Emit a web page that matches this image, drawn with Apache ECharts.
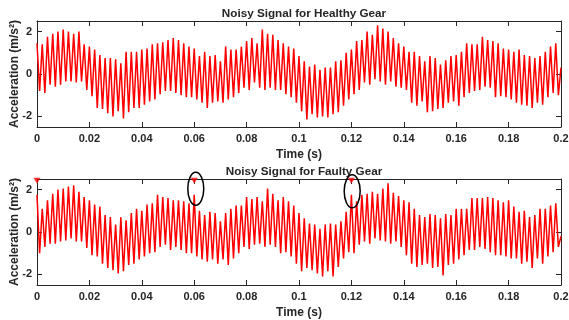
<!DOCTYPE html>
<html>
<head>
<meta charset="utf-8">
<title>Noisy Signal for Healthy / Faulty Gear</title>
<script src="https://cdn.jsdelivr.net/npm/echarts@6/dist/echarts.min.js"></script>
<style>
html, body { margin: 0; padding: 0; background: #fff; }
#main { width: 569px; height: 320px; }
</style>
</head>
<body>
<div id="main"></div>
<script>
// one mesh cycle = 2 ms, peak at the start of the cycle, trough half way
var period = 0.002;
var tEnd = 0.2;

// peak / trough of every cycle (m/s^2)
var healthyPeaks = [
  1.45, 1.4, 1.75, 1.9, 2.0, 2.1, 2.0, 1.9, 2.0, 1.4, 1.3, 1.15, 0.9, 0.75, 0.75, 0.7,
  0.5, 1.05, 1.05, 1.05, 1.15, 1.2, 1.4, 1.45, 1.5, 1.6, 1.7, 1.6, 1.45, 1.3, 1.2, 0.85,
  1.05, 0.85, 0.9, 0.6, 1.3, 1.15, 1.15, 1.3, 1.55, 1.7, 1.45, 2.1, 1.9, 1.85, 1.6, 1.45,
  1.3, 1.2, 0.85, 0.6, 0.35, 0.45, 0.2, 0.3, 0.3, 0.6, 0.65, 1.0, 1.15, 1.55, 1.6, 2.0,
  1.85, 2.3, 2.15, 2.0, 1.7, 1.45, 1.3, 1.05, 1.05, 0.85, 0.6, 0.85, 0.75, 0.45, 0.65, 0.85,
  0.9, 1.05, 1.45, 1.4, 1.4, 1.75, 1.6, 1.55, 1.45, 1.2, 1.15, 1.05, 1.15, 0.9, 0.85, 0.75,
  0.85, 1.05, 1.3, 1.45
];
var healthyTroughs = [
  -0.8, -0.9, -0.5, -0.6, -0.5, -0.35, -0.35, -0.4, -0.35, -0.75, -1.05, -1.6, -1.65, -1.85, -2.0, -1.75,
  -2.1, -1.8, -1.6, -1.6, -1.45, -1.3, -1.2, -0.95, -0.8, -0.8, -0.9, -1.0, -1.1, -1.1, -1.2, -1.35,
  -1.6, -1.35, -1.3, -1.35, -1.2, -1.1, -0.9, -0.65, -0.75, -0.4, -0.65, -0.75, -0.65, -0.75, -0.75, -0.95,
  -1.1, -1.35, -1.75, -2.15, -1.9, -2.05, -2.0, -2.05, -1.9, -1.8, -1.5, -1.2, -0.95, -0.75, -0.4, -0.5,
  -0.25, -0.35, -0.5, -0.35, -0.6, -0.65, -0.75, -1.35, -1.5, -1.3, -1.8, -1.75, -1.65, -1.6, -1.35, -1.3,
  -1.5, -1.1, -0.9, -0.8, -0.75, -0.6, -0.65, -1.1, -1.05, -1.1, -1.2, -1.35, -1.45, -1.5, -1.6, -1.35,
  -1.45, -1.1, -0.9, -1.0
];
var healthyEnd = 0.3;

var faultyPeaks = [
  1.75, 1.1, 1.5, 1.8, 2.0, 2.05, 2.15, 2.2, 1.9, 1.65, 1.5, 1.3, 1.2, 0.8, 0.7, 0.35,
  0.7, 0.55, 0.9, 1.1, 1.0, 1.3, 1.35, 1.75, 1.65, 1.6, 1.5, 1.5, 1.45, 1.35, 1.75, 1.0,
  0.8, 0.95, 0.9, 0.5, 0.9, 1.1, 1.25, 1.25, 1.65, 1.55, 1.65, 1.45, 2.05, 1.8, 1.5, 1.65,
  1.45, 1.25, 0.9, 0.65, 0.4, 0.35, 0.15, 0.35, 0.4, 0.35, 0.5, 0.95, 1.75, 1.45, 1.75, 1.8,
  1.9, 1.8, 2.05, 2.3, 1.85, 1.7, 1.5, 1.4, 1.1, 0.8, 0.7, 0.85, 0.8, 0.65, 0.85, 0.8,
  1.1, 1.1, 1.1, 1.6, 1.6, 1.6, 1.65, 1.6, 1.5, 1.4, 1.5, 1.2, 0.95, 1.0, 0.7, 0.8,
  1.1, 1.1, 1.25, 1.35
];
var faultyTroughs = [
  -1.0, -0.7, -0.55, -0.55, -0.45, -0.4, -0.3, -0.45, -0.45, -0.75, -1.1, -1.15, -1.5, -1.7, -1.8, -1.95,
  -1.85, -1.55, -1.5, -1.3, -1.15, -1.0, -0.95, -0.7, -0.6, -0.85, -0.7, -0.85, -1.0, -1.0, -1.15, -1.3,
  -1.4, -1.3, -1.5, -1.3, -1.55, -1.25, -1.0, -0.7, -0.8, -0.6, -0.55, -0.7, -0.6, -0.7, -1.0, -0.95,
  -1.15, -1.5, -1.85, -1.7, -1.8, -1.95, -2.1, -1.85, -2.1, -1.65, -1.25, -0.95, -1.0, -0.6, -0.45, -0.55,
  -0.3, -0.4, -0.45, -0.55, -0.45, -0.7, -1.1, -1.5, -1.65, -1.55, -1.5, -1.7, -1.65, -2.05, -1.55, -1.5,
  -1.3, -1.1, -0.85, -0.85, -0.7, -0.8, -0.95, -1.1, -1.1, -1.15, -1.25, -1.25, -1.5, -1.4, -1.7, -1.25,
  -1.5, -1.15, -0.95, -0.7
];
var faultyEnd = -0.2;

// fault impulses (red markers) and the two circled ones
var faultTimes = [0, 0.06, 0.12];
var faultMarkLevel = 2.42;
var circled = [[0.0606, 2.04], [0.1203, 1.92]];

var xTicks = [0, 0.02, 0.04, 0.06, 0.08, 0.1, 0.12, 0.14, 0.16, 0.18, 0.2];
var yTicks = [-2, 0, 2];

function buildSignal(peaks, troughs, endVal) {
  var pts = [];
  for (var k = 0; k < peaks.length; k++) {
    pts.push([+(k * period).toFixed(4), peaks[k]]);
    pts.push([+(k * period + period / 2).toFixed(4), troughs[k]]);
  }
  pts.push([tEnd, endVal]);
  return pts;
}

var font = 'Liberation Sans, Arial, sans-serif';
var ink = '#262626';

function xAxes(g) {
  var base = {
    type: 'value', gridIndex: g, min: 0, max: tEnd,
    axisLine: { show: true, onZero: false, lineStyle: { color: ink, width: 1 } },
    axisTick: { show: true, inside: true, length: 5, customValues: xTicks, lineStyle: { color: ink } },
    splitLine: { show: false }
  };
  var bottom = Object.assign({}, base, {
    position: 'bottom',
    axisLabel: {
      customValues: xTicks, margin: 6, color: ink, fontSize: 11, fontWeight: 'bold', fontFamily: font,
      formatter: function (v) { return String(+v.toFixed(2)); }
    },
    name: 'Time (s)', nameLocation: 'middle', nameGap: 22, nameMoveOverlap: false,
    nameTextStyle: { color: ink, fontSize: 12, fontWeight: 'bold', fontFamily: font }
  });
  var top = Object.assign({}, base, { position: 'top', axisLabel: { show: false } });
  return [bottom, top];
}

function yAxes(g) {
  var base = {
    type: 'value', gridIndex: g, min: -2.5, max: 2.5,
    axisLine: { show: true, onZero: false, lineStyle: { color: ink, width: 1 } },
    axisTick: { show: true, inside: true, length: 5, customValues: yTicks, lineStyle: { color: ink } },
    splitLine: { show: false }
  };
  var left = Object.assign({}, base, {
    position: 'left',
    axisLabel: { customValues: yTicks, margin: 5, color: ink, fontSize: 11, fontWeight: 'bold', fontFamily: font },
    name: 'Acceleration (m/s²)', nameLocation: 'middle', nameGap: 16, nameRotate: 90, nameMoveOverlap: false,
    nameTextStyle: { color: ink, fontSize: 12, fontWeight: 'bold', fontFamily: font }
  });
  var right = Object.assign({}, base, { position: 'right', axisLabel: { show: false } });
  return [left, right];
}

var chart = echarts.init(document.getElementById('main'), null, { renderer: 'canvas' });

var option = {
  animation: false,
  backgroundColor: '#fff',
  title: [
    { text: 'Noisy Signal for Healthy Gear', left: 299, top: 3, textAlign: 'center',
      textStyle: { color: ink, fontSize: 11.7, fontWeight: 'bold', fontFamily: font } },
    { text: 'Noisy Signal for Faulty Gear', left: 299, top: 161, textAlign: 'center',
      textStyle: { color: ink, fontSize: 11.7, fontWeight: 'bold', fontFamily: font } }
  ],
  grid: [
    { left: 37, top: 21, width: 524, height: 106, containLabel: false, outerBoundsMode: 'none' },
    { left: 37, top: 179, width: 524, height: 106, containLabel: false, outerBoundsMode: 'none' }
  ],
  xAxis: xAxes(0).concat(xAxes(1)),
  yAxis: yAxes(0).concat(yAxes(1)),
  series: [
    {
      name: 'Healthy', type: 'line', xAxisIndex: 0, yAxisIndex: 0,
      data: buildSignal(healthyPeaks, healthyTroughs, healthyEnd),
      showSymbol: false, lineStyle: { color: '#ff0000', width: 1.5 }
    },
    {
      name: 'Faulty', type: 'line', xAxisIndex: 2, yAxisIndex: 2,
      data: buildSignal(faultyPeaks, faultyTroughs, faultyEnd),
      showSymbol: false, lineStyle: { color: '#ff0000', width: 1.5 }
    },
    {
      name: 'Fault', type: 'scatter', xAxisIndex: 2, yAxisIndex: 2, clip: false,
      data: faultTimes.map(function (t) { return [t, faultMarkLevel]; }),
      symbol: 'triangle', symbolRotate: 180, symbolSize: [7, 6],
      itemStyle: { color: '#ff0000' }, z: 5
    }
  ]
};
chart.setOption(option);

// black ellipses round the impulses at 0.06 and 0.12 s
chart.setOption({
  graphic: circled.map(function (p) {
    var c = chart.convertToPixel({ seriesIndex: 1 }, p);
    return {
      type: 'ellipse', z: 100,
      shape: { cx: c[0], cy: c[1], rx: 8, ry: 16.5 },
      style: { fill: 'none', stroke: '#000', lineWidth: 1.5 }
    };
  })
});
</script>
</body>
</html>
